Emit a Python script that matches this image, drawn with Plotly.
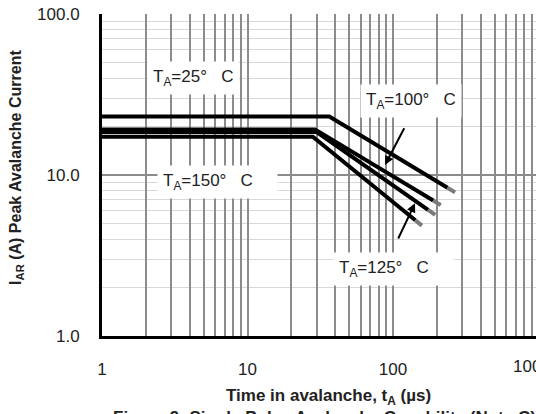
import math
import plotly.graph_objects as go

# Single pulse avalanche capability: peak avalanche current vs. time in avalanche
t_25 = [1, 36.5, 267]
i_25 = [23.1, 23.1, 7.8]
t_100 = [1, 29.1, 213]
i_100 = [19.2, 19.2, 6.5]
t_125 = [1, 29.9, 195]
i_125 = [18.5, 18.5, 5.65]
t_150 = [1, 28.1, 158]
i_150 = [17.3, 17.3, 4.85]

curves = [(t_25, i_25), (t_100, i_100), (t_125, i_125), (t_150, i_150)]

x_ticks = [1, 10, 100]
x_ticktext = ["1", "10", "100"]
y_ticks = [1, 10, 100]
y_ticktext = ["1.0", "10.0", "100.0"]

FONT = "Liberation Sans, Arial, sans-serif"
TIP_FRAC = 0.94  # last part of each curve is drawn in grey


def log_lerp(a, b, f):
    return 10 ** (math.log10(a) + f * (math.log10(b) - math.log10(a)))


fig = go.Figure()
for t, i in curves:
    t_tip = log_lerp(t[-2], t[-1], TIP_FRAC)
    i_tip = log_lerp(i[-2], i[-1], TIP_FRAC)
    fig.add_trace(go.Scatter(x=t[:-1] + [t_tip], y=i[:-1] + [i_tip], mode="lines",
                             line=dict(color="black", width=4), hoverinfo="skip",
                             showlegend=False))
    fig.add_trace(go.Scatter(x=[t_tip, t[-1]], y=[i_tip, i[-1]], mode="lines",
                             line=dict(color="#7a7a7a", width=4), hoverinfo="skip",
                             showlegend=False))

# vertical grid at every 1-2-...-9 step of each decade
x_grid = [m * 10 ** d for d in range(0, 3) for m in range(1, 10)]
x_text = [x_ticktext[x_ticks.index(v)] if v in x_ticks else "" for v in x_grid]
y_minor = [m * 10 ** d for d in range(0, 2) for m in range(2, 10)]

fig.update_xaxes(type="log", range=[0, (536 - 102) / 145.5],
                 tickvals=x_grid, ticktext=x_text, ticks="",
                 showgrid=True, gridcolor="#8c8c8c", gridwidth=2,
                 showline=True, linecolor="black", linewidth=3, mirror=False,
                 ticklabelstandoff=16,
                 tickfont=dict(family=FONT, size=17, color="#222222"))
fig.update_yaxes(type="log", range=[0, 2],
                 tickvals=y_ticks, ticktext=y_ticktext, ticks="",
                 showgrid=True, gridcolor="#8c8c8c", gridwidth=2,
                 minor=dict(tickvals=y_minor, showgrid=True, gridcolor="#d8d8d8",
                            gridwidth=1, ticks=""),
                 showline=True, linecolor="black", linewidth=3, mirror=False,
                 ticklabelstandoff=16,
                 tickfont=dict(family=FONT, size=17, color="#222222"))

sp = "\u00a0"
label_font = dict(family=FONT, size=17, color="#222222")
labels = [
    ("T<sub>A</sub>=25°" + sp * 3 + "C", 0.309, 1.6025),
    ("T<sub>A</sub>=100°" + sp * 3 + "C", 1.773, 1.4596),
    ("T<sub>A</sub>=125°" + sp * 3 + "C" + sp * 4, 1.5876, 0.4161),
    ("T<sub>A</sub>=150°" + sp * 3 + "C" + sp * 4, 0.378, 0.9596),
]
for text, lx, ly in labels:
    fig.add_annotation(x=lx, y=ly, xref="x", yref="y", text=text, showarrow=False,
                       xanchor="left", yanchor="middle", bgcolor="white",
                       borderpad=5, font=label_font)

# pointers from the labels to their curves
for hx, hy, tx, ty in [(1.945, 1.062, 2.0825, 1.300), (2.1512, 0.8242, 2.031, 0.5963)]:
    fig.add_annotation(x=hx, y=hy, ax=tx, ay=ty, xref="x", yref="y", axref="x", ayref="y",
                       text="", showarrow=True, arrowhead=2, arrowsize=0.9,
                       arrowwidth=2, arrowcolor="black", standoff=0)

# last decade label sits at the right edge, partly outside the figure
fig.add_annotation(x=0.99, y=-0.096, xref="paper", yref="paper", text="1000", showarrow=False,
                   xanchor="center", yanchor="middle", font=dict(family=FONT, size=17, color="#222222"))

fig.add_annotation(x=-0.196, y=0.525, xref="paper", yref="paper",
                   text="<b>I<sub>AR</sub> (A) Peak Avalanche Current</b>", textangle=-90,
                   showarrow=False, xanchor="center", yanchor="middle",
                   font=dict(family=FONT, size=16, color="#222222"))
fig.add_annotation(x=0.522, y=-0.189, xref="paper", yref="paper",
                   text="<b>Time in avalanche, t<sub>A</sub> (µs)</b>",
                   showarrow=False, xanchor="center", yanchor="middle",
                   font=dict(family=FONT, size=17, color="#222222"))
fig.add_annotation(x=0.02, y=-0.218, xref="paper", yref="paper",
                   text="<b>Figure 9: Single Pulse Avalanche Capability (Note C)</b>",
                   showarrow=False, xanchor="left", yanchor="top",
                   font=dict(family=FONT, size=17, color="#222222"))

fig.update_layout(width=536, height=414, autosize=False,
                  margin=dict(l=102, r=0, t=14, b=78),
                  paper_bgcolor="white", plot_bgcolor="white", showlegend=False)

fig.write_html("out.html")
